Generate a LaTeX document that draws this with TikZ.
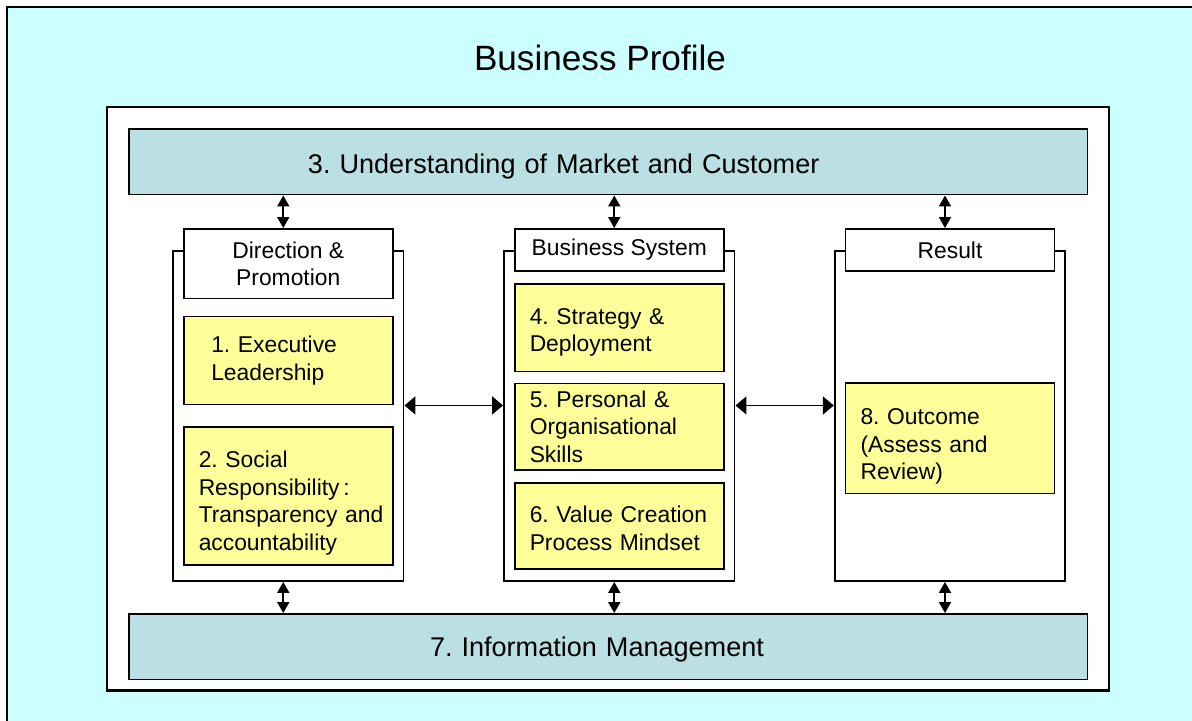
\documentclass[tikz,border=0pt]{standalone}
\usepackage{fontspec}
\setmainfont{Liberation Sans}
\usetikzlibrary{arrows.meta}
\definecolor{skyfill}{HTML}{CCFFFF}
\definecolor{bandfill}{HTML}{BBE0E3}
\definecolor{notefill}{HTML}{FFFF99}
\frenchspacing

\begin{document}
\begin{tikzpicture}[
  font=\fontsize{13}{15.6}\selectfont,
  box/.style={draw, line width=1.1pt},
  col/.style={box, fill=white, minimum width=4.61cm, minimum height=6.6cm, inner sep=0pt},
  hd/.style={box, fill=white, minimum width=4.18cm, align=center, inner sep=0pt},
  yb/.style={box, fill=notefill, text width=3.58cm, inner xsep=0.3cm,
             inner ysep=0pt, align=left},
  band/.style={box, fill=bandfill, text width=19.17cm, inner xsep=0pt,
               minimum height=1.31cm, align=left,
               font=\fontsize{15.4}{18}\selectfont},
  % taller first line pushes the text block down inside its box
  pushdown/.style={execute at begin node={\rule{0pt}{#1}}},
  vdar/.style={{Triangle[length=2.2mm,width=2.4mm]}-{Triangle[length=2.2mm,width=2.4mm]},
               line width=1.1pt},
  hdar/.style={{Triangle[length=2.2mm,width=3.6mm]}-{Triangle[length=2.2mm,width=3.6mm]},
               line width=1.1pt}
]
\clip (0,0) rectangle (23.84,-14.4);

% ================= backdrop =================
\filldraw[fill=skyfill, line width=1.2pt] (0.14,-0.14) rectangle (24.5,-15);
\node[font=\fontsize{20}{24}\selectfont] (title) at (12.0,-1.16) {Business Profile};
\filldraw[fill=white, line width=1.2pt] (2.14,-2.14) rectangle (22.18,-13.81);

% ================= bands =================
\node[band, pushdown=16.9pt] (market) at (12.165,-3.235)
  {\hspace*{3.58cm}3. Understanding of Market and Customer};
\node[band, pushdown=14.6pt] (info) at (12.165,-12.935)
  {\hspace*{6.02cm}7. Information Management};

% ================= columns =================
\node[col] (dcol) at ( 5.765,-8.32) {};
\node[col] (scol) at (12.385,-8.32) {};
\node[col] (rcol) at (19.000,-8.32) {};

\node[hd, minimum height=1.39cm] (dhead) at ( 5.765,-5.275) {Direction \&\\Promotion};
\node[hd, minimum height=0.84cm] (shead) at (12.385,-5.0) {Business System};
\node[hd, minimum height=0.84cm] (rhead) at (19.000,-5.0) {Result};

% direction & promotion
\node[yb, text width=3.08cm, inner xsep=0.55cm, minimum height=1.76cm] (exec)
  at (5.765,-7.21) {1. Executive\\Leadership};
\node[yb, pushdown=17.5pt, minimum height=2.76cm] (social) at (5.765,-9.92)
  {2. Social\\Responsibility\,:\\Transparency~and\\accountability};

% business system
\node[yb, pushdown=14.6pt, minimum height=1.75cm] (strat) at (12.385,-6.555)
  {4. Strategy \&\\Deployment};
\node[yb, minimum height=1.73cm] (skills) at (12.385,-8.535)
  {5. Personal \&\\Organisational\\Skills};
\node[yb, pushdown=12.3pt, minimum height=1.72cm] (value) at (12.385,-10.52)
  {6.~Value~Creation\\Process Mindset};

% result
\node[yb, pushdown=18.6pt, minimum height=2.21cm] (outcome) at (19.000,-8.765)
  {8. Outcome\\(Assess and\\Review)};

% ================= links =================
\foreach \h/\c in {dhead/dcol, shead/scol, rhead/rcol} {
  \draw[vdar] ([xshift=-1mm]\h.north |- market.south) -- ([xshift=-1mm]\h.north);
  \draw[vdar] ([xshift=-1mm]\c.south) -- ([xshift=-1mm]\c.south |- info.north);
}
\draw[hdar] (dcol.east |- exec.south) -- (scol.west |- exec.south);
\draw[hdar] (scol.east |- exec.south) -- (rcol.west |- exec.south);
\end{tikzpicture}
\end{document}
